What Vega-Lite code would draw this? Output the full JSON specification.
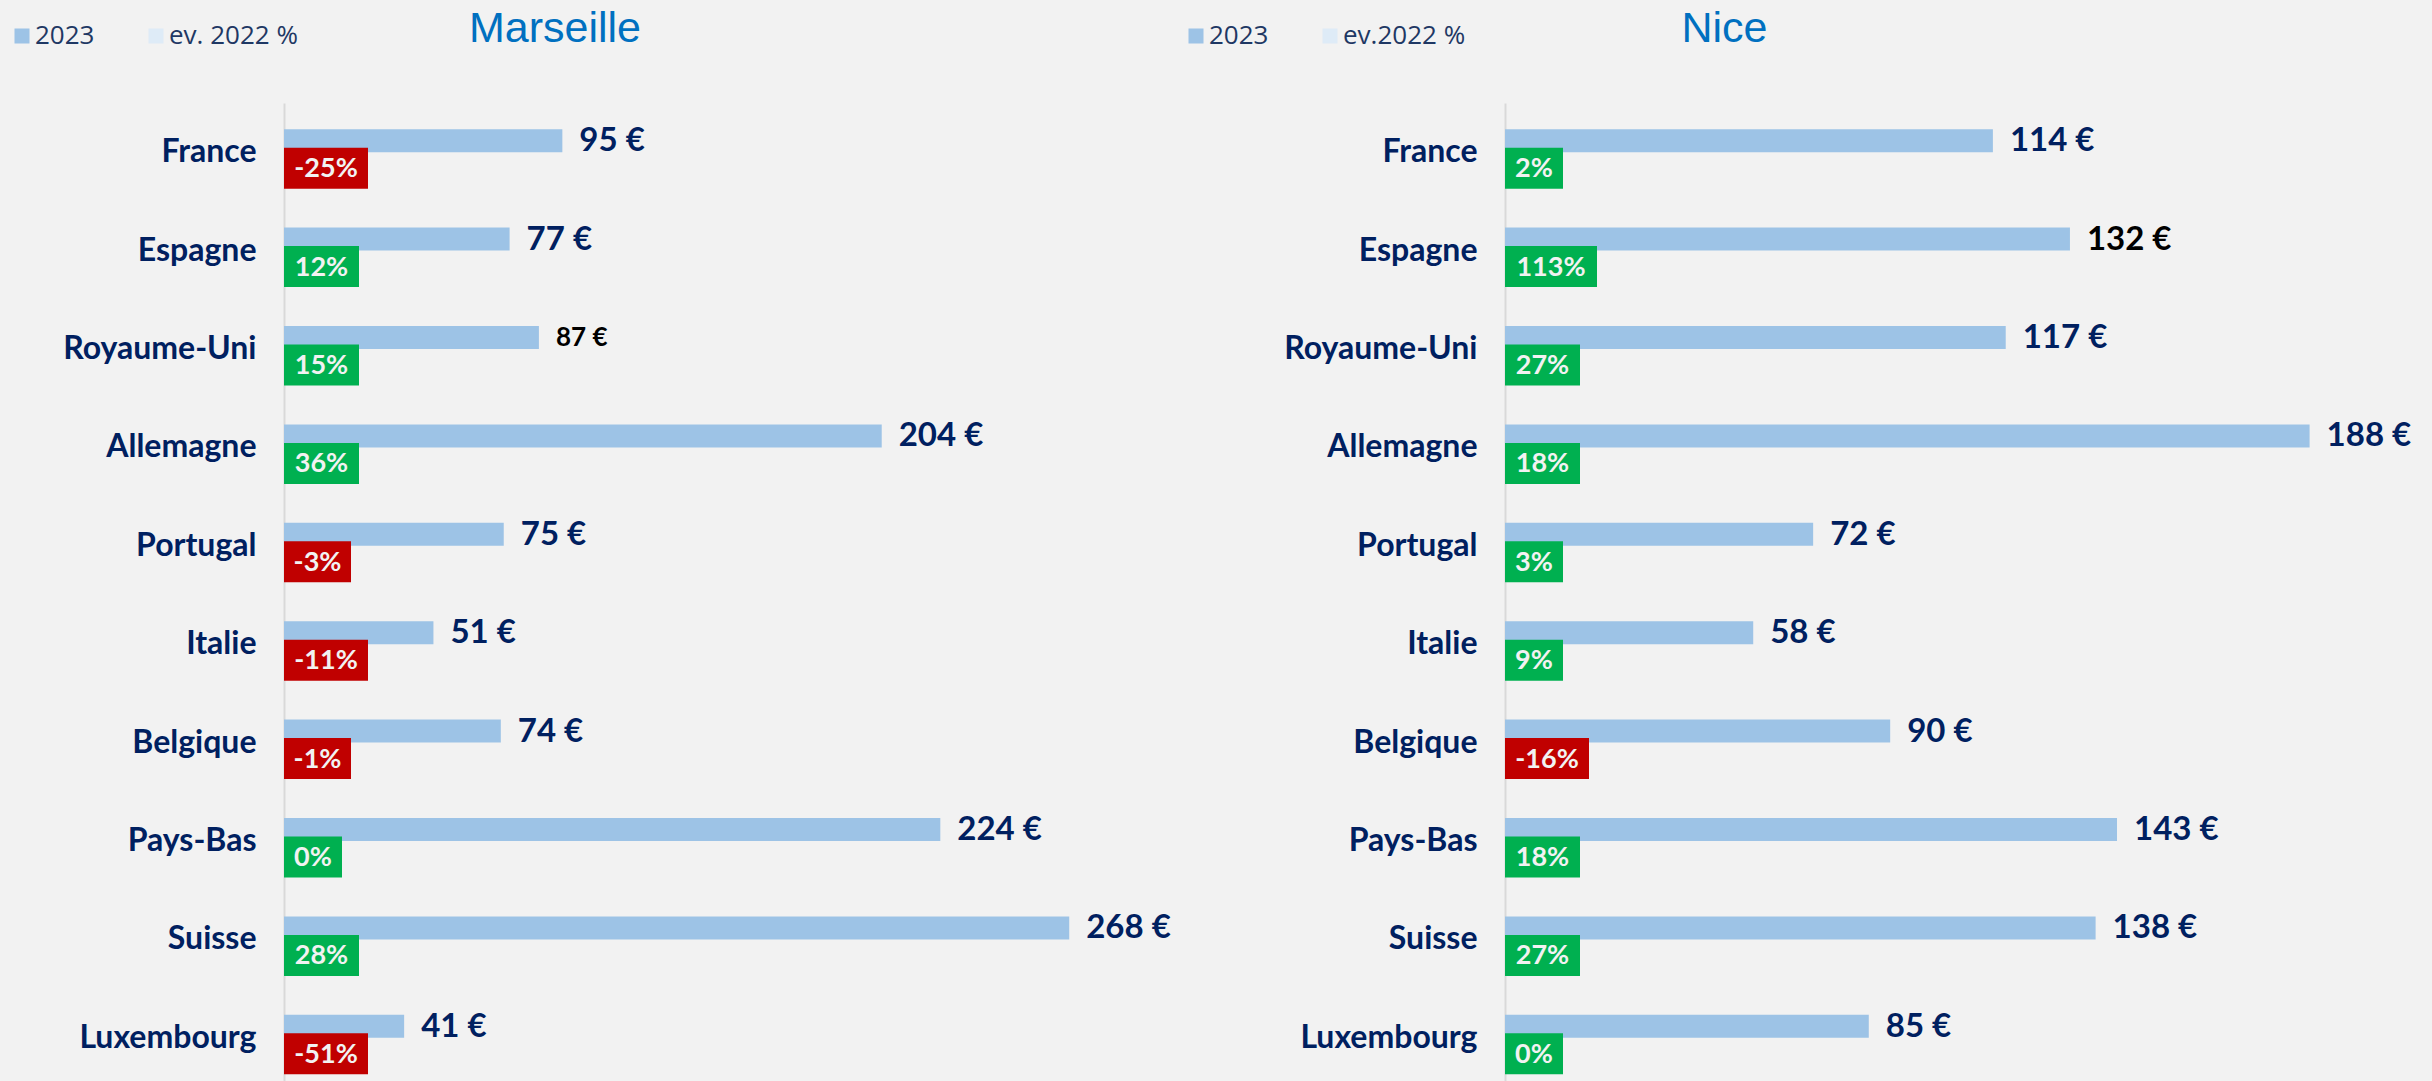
{
  "$schema": "https://vega.github.io/schema/vega-lite/v6.json",
  "background": "#F2F2F2",
  "padding": {"left": 9, "top": 8, "right": 0, "bottom": 0},
  "config": {
    "view": {"stroke": null},
    "locale": {"number": {"decimal": ",", "thousands": " ", "grouping": [3], "currency": ["", " €"], "minus": "-", "percent": "%"}},
    "legend": {"padding": 0}
  },
  "datasets": {
    "marseille": [
      {"pays": "France", "v": 95, "ev": -0.25},
      {"pays": "Espagne", "v": 77, "ev": 0.12},
      {"pays": "Royaume-Uni", "v": 87, "ev": 0.15},
      {"pays": "Allemagne", "v": 204, "ev": 0.36},
      {"pays": "Portugal", "v": 75, "ev": -0.03},
      {"pays": "Italie", "v": 51, "ev": -0.11},
      {"pays": "Belgique", "v": 74, "ev": -0.01},
      {"pays": "Pays-Bas", "v": 224, "ev": 0},
      {"pays": "Suisse", "v": 268, "ev": 0.28},
      {"pays": "Luxembourg", "v": 41, "ev": -0.51}
    ],
    "nice": [
      {"pays": "France", "v": 114, "ev": 0.02},
      {"pays": "Espagne", "v": 132, "ev": 1.13},
      {"pays": "Royaume-Uni", "v": 117, "ev": 0.27},
      {"pays": "Allemagne", "v": 188, "ev": 0.18},
      {"pays": "Portugal", "v": 72, "ev": 0.03},
      {"pays": "Italie", "v": 58, "ev": 0.09},
      {"pays": "Belgique", "v": 90, "ev": -0.16},
      {"pays": "Pays-Bas", "v": 143, "ev": 0.18},
      {"pays": "Suisse", "v": 138, "ev": 0.27},
      {"pays": "Luxembourg", "v": 85, "ev": 0}
    ]
  },
  "bounds": "flush",
  "spacing": 221,
  "resolve": {"scale": {"x": "independent", "y": "independent", "color": "independent"}, "legend": {"color": "independent"}},
  "hconcat": [
    {
      "data": {"name": "marseille"},
      "width": 1000,
      "height": 984,
      "title": {"text": "Marseille", "orient": "top", "frame": "group", "anchor": "middle", "dx": -229, "dy": 62, "offset": 0, "baseline": "alphabetic", "font": "Liberation Sans", "fontSize": 43, "fontWeight": "normal", "color": "#0070C0"},
      "encoding": {
        "y": {"field": "pays", "type": "nominal", "sort": null, "scale": {"paddingInner": 0, "paddingOuter": 0},
          "axis": {"title": null, "ticks": false, "grid": false, "domainColor": "#D9D9D9", "domainWidth": 2, "labelPadding": 28, "labelFont": "Lato", "labelFontSize": 32, "labelFontWeight": "bold", "labelColor": "#002060", "labelLimit": 400}}
      },
      "layer": [
        {
          "mark": {"type": "bar", "height": 23, "yOffset": -11.5},
          "encoding": {
            "x": {"field": "v", "type": "quantitative", "scale": {"domain": [0, 341.3], "nice": false, "zero": true}, "axis": null},
            "color": {"datum": "2023", "type": "nominal",
              "scale": {"domain": ["2023", "ev. 2022 %"], "range": ["#9DC3E6", "#DEEBF7"]},
              "legend": {"title": null, "orient": "none", "legendX": -275, "legendY": -80, "direction": "horizontal", "symbolType": "square", "symbolSize": 225, "symbolStrokeWidth": 0, "labelFont": "Open Sans", "labelFontSize": 26, "labelColor": "#1F3864", "labelOffset": 0, "columnPadding": 48, "padding": 0}}
          }
        },
        {
          "mark": {"type": "text", "align": "left", "baseline": "middle", "dx": 17, "yOffset": -11, "font": "Lato", "fontWeight": "bold"},
          "encoding": {
            "x": {"field": "v", "type": "quantitative"},
            "text": {"field": "v", "type": "quantitative", "format": "$d"},
            "color": {"condition": {"test": "datum.pays === 'Royaume-Uni'", "value": "#000000"}, "value": "#002060"},
            "size": {"condition": {"test": "datum.pays === 'Royaume-Uni'", "value": 26}, "value": 33}
          }
        },
        {
          "mark": {"type": "bar", "height": 41, "yOffset": 16, "x2Offset": {"expr": "24 + 17*length(format(datum.ev, '.0%')) - (datum.ev < 0 ? 8 : 0)"}},
          "encoding": {
            "x": {"datum": 0, "type": "quantitative"},
            "x2": {"datum": 0},
            "fill": {"condition": {"test": "datum.ev < 0", "value": "#C00000"}, "value": "#00B050"}
          }
        },
        {
          "mark": {"type": "text", "align": "center", "baseline": "middle", "yOffset": 17, "font": "Lato", "fontWeight": "bold", "fontSize": 27, "color": "#F2F2F2",
            "xOffset": {"expr": "(24 + 17*length(format(datum.ev, '.0%')) - (datum.ev < 0 ? 8 : 0)) / 2"}},
          "encoding": {
            "x": {"datum": 0, "type": "quantitative"},
            "text": {"field": "ev", "type": "quantitative", "format": ".0%"}
          }
        }
      ]
    },
    {
      "data": {"name": "nice"},
      "width": 927,
      "height": 984,
      "title": {"text": "Nice", "orient": "top", "frame": "group", "anchor": "middle", "dx": -244, "dy": 62, "offset": 0, "baseline": "alphabetic", "font": "Liberation Sans", "fontSize": 43, "fontWeight": "normal", "color": "#0070C0"},
      "encoding": {
        "y": {"field": "pays", "type": "nominal", "sort": null, "scale": {"paddingInner": 0, "paddingOuter": 0},
          "axis": {"title": null, "ticks": false, "grid": false, "domainColor": "#D9D9D9", "domainWidth": 2, "labelPadding": 28, "labelFont": "Lato", "labelFontSize": 32, "labelFontWeight": "bold", "labelColor": "#002060", "labelLimit": 400}}
      },
      "layer": [
        {
          "mark": {"type": "bar", "height": 23, "yOffset": -11.5},
          "encoding": {
            "x": {"field": "v", "type": "quantitative", "scale": {"domain": [0, 216.6], "nice": false, "zero": true}, "axis": null},
            "color": {"datum": "2023", "type": "nominal",
              "scale": {"domain": ["2023", "ev.2022 %"], "range": ["#9DC3E6", "#DEEBF7"]},
              "legend": {"title": null, "orient": "none", "legendX": -322, "legendY": -80, "direction": "horizontal", "symbolType": "square", "symbolSize": 225, "symbolStrokeWidth": 0, "labelFont": "Open Sans", "labelFontSize": 26, "labelColor": "#1F3864", "labelOffset": 0, "columnPadding": 48, "padding": 0}}
          }
        },
        {
          "mark": {"type": "text", "align": "left", "baseline": "middle", "dx": 17, "yOffset": -11, "font": "Lato", "fontWeight": "bold", "fontSize": 33},
          "encoding": {
            "x": {"field": "v", "type": "quantitative"},
            "text": {"field": "v", "type": "quantitative", "format": "$d"},
            "color": {"condition": {"test": "datum.pays === 'Espagne'", "value": "#000000"}, "value": "#002060"}
          }
        },
        {
          "mark": {"type": "bar", "height": 41, "yOffset": 16, "x2Offset": {"expr": "24 + 17*length(format(datum.ev, '.0%')) - (datum.ev < 0 ? 8 : 0)"}},
          "encoding": {
            "x": {"datum": 0, "type": "quantitative"},
            "x2": {"datum": 0},
            "fill": {"condition": {"test": "datum.ev < 0", "value": "#C00000"}, "value": "#00B050"}
          }
        },
        {
          "mark": {"type": "text", "align": "center", "baseline": "middle", "yOffset": 17, "font": "Lato", "fontWeight": "bold", "fontSize": 27, "color": "#F2F2F2",
            "xOffset": {"expr": "(24 + 17*length(format(datum.ev, '.0%')) - (datum.ev < 0 ? 8 : 0)) / 2"}},
          "encoding": {
            "x": {"datum": 0, "type": "quantitative"},
            "text": {"field": "ev", "type": "quantitative", "format": ".0%"}
          }
        }
      ]
    }
  ]
}
